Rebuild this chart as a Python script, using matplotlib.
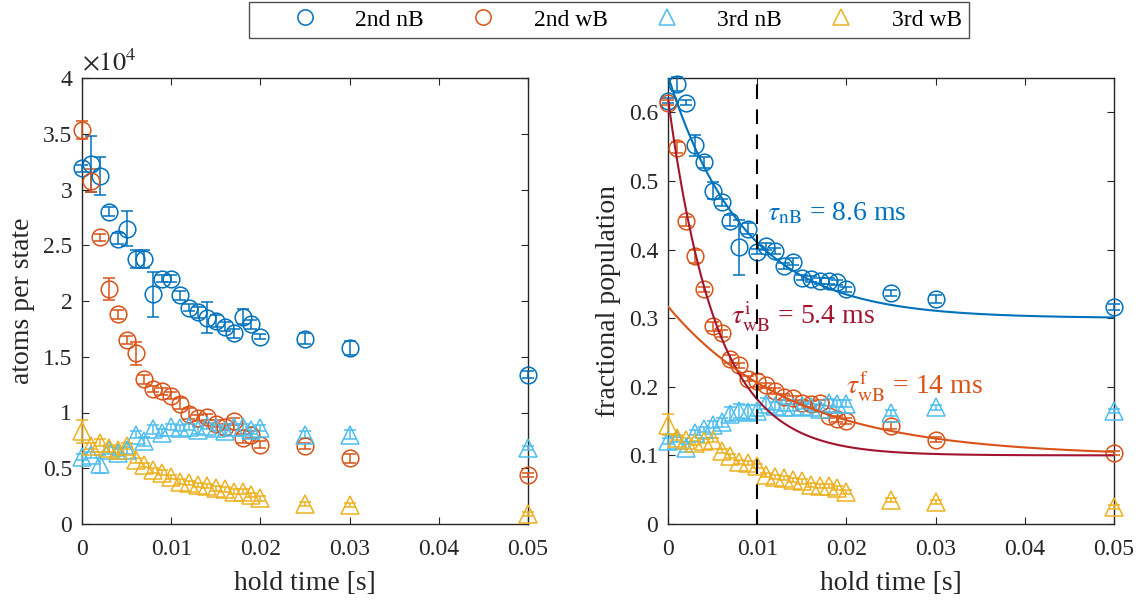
"""Hold-time decay of 2nd/3rd band populations, with and without barrier."""

import matplotlib
matplotlib.use("Agg")
import matplotlib.pyplot as plt
from matplotlib.lines import Line2D
import numpy as np

plt.rcParams["font.family"] = ["Liberation Serif", "DejaVu Serif"]
plt.rcParams["mathtext.fontset"] = "stix"

# hold times [s]
hold_time = [0.000, 0.001, 0.002, 0.003, 0.004, 0.005, 0.006, 0.007, 0.008,
             0.009, 0.010, 0.011, 0.012, 0.013, 0.014, 0.015, 0.016, 0.017,
             0.018, 0.019, 0.020, 0.025, 0.030, 0.050]

# atoms per state, in units of 1e4
atoms_2nd_nb = [3.19, 3.23, 3.12, 2.80, 2.56, 2.65, 2.38, 2.38, 2.06, 2.20, 2.20, 2.05,
                1.94, 1.90, 1.85, 1.82, 1.77, 1.71, 1.86, 1.79, 1.68, 1.66, 1.58, 1.34]
atoms_2nd_nb_err = [0.03, 0.25, 0.17, 0.04, 0.05, 0.16, 0.08, 0.08, 0.20, 0.03, 0.03, 0.04,
                    0.03, 0.05, 0.14, 0.05, 0.04, 0.04, 0.07, 0.04, 0.02, 0.05, 0.06, 0.03]
atoms_2nd_wb = [3.53, 3.08, 2.57, 2.11, 1.88, 1.65, 1.53, 1.30, 1.21, 1.19, 1.15, 1.08,
                0.99, 0.95, 0.96, 0.90, 0.87, 0.92, 0.77, 0.80, 0.71, 0.70, 0.59, 0.44]
atoms_2nd_wb_err = [0.08, 0.10, 0.03, 0.10, 0.04, 0.04, 0.10, 0.04, 0.03, 0.03, 0.03, 0.05,
                    0.05, 0.03, 0.03, 0.03, 0.03, 0.03, 0.04, 0.03, 0.03, 0.03, 0.04, 0.02]
atoms_3rd_nb = [0.60, 0.62, 0.54, 0.66, 0.64, 0.66, 0.80, 0.74, 0.85, 0.82, 0.87, 0.86,
                0.87, 0.84, 0.88, 0.86, 0.83, 0.87, 0.87, 0.84, 0.86, 0.80, 0.80, 0.68]
atoms_3rd_nb_err = [0.03, 0.03, 0.08, 0.03, 0.03, 0.03, 0.03, 0.04, 0.04, 0.03, 0.03, 0.03,
                    0.03, 0.03, 0.03, 0.03, 0.03, 0.03, 0.03, 0.03, 0.03, 0.03, 0.04, 0.02]
atoms_3rd_wb = [0.83, 0.70, 0.73, 0.68, 0.66, 0.70, 0.57, 0.53, 0.48, 0.46, 0.42, 0.38,
                0.37, 0.35, 0.34, 0.32, 0.31, 0.29, 0.29, 0.26, 0.23, 0.18, 0.17, 0.09]
atoms_3rd_wb_err = [0.10, 0.03, 0.03, 0.03, 0.03, 0.03, 0.02, 0.02, 0.02, 0.02, 0.02, 0.02,
                    0.02, 0.02, 0.02, 0.02, 0.02, 0.02, 0.02, 0.02, 0.02, 0.02, 0.02, 0.02]

# fractional population
frac_2nd_nb = [0.617, 0.641, 0.614, 0.552, 0.527, 0.486, 0.469, 0.442, 0.403, 0.430,
               0.397, 0.405, 0.398, 0.376, 0.382, 0.359, 0.357, 0.354, 0.354, 0.352,
               0.342, 0.337, 0.328, 0.316]
frac_2nd_nb_err = [0.004, 0.010, 0.004, 0.015, 0.008, 0.012, 0.005, 0.008, 0.040, 0.008,
                   0.004, 0.005, 0.004, 0.005, 0.005, 0.004, 0.004, 0.004, 0.004, 0.004,
                   0.004, 0.004, 0.006, 0.004]
frac_2nd_wb = [0.614, 0.548, 0.441, 0.390, 0.342, 0.288, 0.278, 0.241, 0.231, 0.212,
               0.209, 0.202, 0.194, 0.185, 0.183, 0.177, 0.175, 0.177, 0.158, 0.153,
               0.150, 0.143, 0.123, 0.103]
frac_2nd_wb_err = [0.004, 0.008, 0.007, 0.010, 0.004, 0.006, 0.005, 0.006, 0.004, 0.004,
                   0.010, 0.004, 0.004, 0.004, 0.004, 0.004, 0.004, 0.004, 0.004, 0.004,
                   0.004, 0.005, 0.004, 0.003]
frac_3rd_nb = [0.121, 0.123, 0.111, 0.133, 0.138, 0.145, 0.148, 0.160, 0.165, 0.163,
               0.165, 0.175, 0.172, 0.170, 0.170, 0.172, 0.170, 0.168, 0.177, 0.175,
               0.175, 0.162, 0.170, 0.165]
frac_3rd_nb_err = [0.004, 0.004, 0.006, 0.004, 0.004, 0.005, 0.006, 0.010, 0.010, 0.010,
                   0.008, 0.008, 0.006, 0.005, 0.005, 0.005, 0.005, 0.005, 0.005, 0.005,
                   0.005, 0.004, 0.004, 0.003]
frac_3rd_wb = [0.145, 0.126, 0.123, 0.118, 0.121, 0.123, 0.106, 0.099, 0.091, 0.089,
               0.084, 0.072, 0.069, 0.067, 0.064, 0.062, 0.057, 0.055, 0.055, 0.052,
               0.047, 0.035, 0.032, 0.025]
frac_3rd_wb_err = [0.015, 0.004, 0.003, 0.003, 0.003, 0.003, 0.003, 0.003, 0.003, 0.003,
                   0.003, 0.003, 0.003, 0.003, 0.003, 0.003, 0.003, 0.003, 0.003, 0.003,
                   0.003, 0.003, 0.003, 0.003]

# exponential fits  A * exp(-t / tau) + C
fit_nb = (0.353, 8.6e-3, 0.300)
fit_wb_i = (0.52, 5.4e-3, 0.100)
fit_wb_f = (0.218, 14e-3, 0.099)

labels = ["2nd nB", "2nd wB", "3rd nB", "3rd wB"]
colors = ["#0072BD", "#D95319", "#4DBEEE", "#EDB120"]
markers = ["o", "o", "^", "^"]
fit_colors = ["#0072BD", "#A2142F", "#D95319"]

SPINE = "#262626"


def style_axes(ax):
    for side in ax.spines.values():
        side.set_color(SPINE)
        side.set_linewidth(1.0)
    ax.tick_params(direction="in", top=True, right=True, length=5, width=0.8,
                   colors=SPINE, labelsize=17, labelcolor="#262626")
    ax.tick_params(axis="x", pad=11)
    ax.tick_params(axis="y", pad=7)
    ax.set_xlim(0, 0.05)
    ax.set_xticks([0, 0.01, 0.02, 0.03, 0.04, 0.05])
    ax.set_xticklabels(["0", "0.01", "0.02", "0.03", "0.04", "0.05"])
    ax.set_xlabel("hold time [s]", fontsize=20, color="#262626", labelpad=8)


def draw_series(ax, ys, errs):
    for y, e, lab, col, mk in zip(ys, errs, labels, colors, markers):
        ax.errorbar(hold_time, y, yerr=e, fmt=mk, mfc="none", mec=col,
                    ms=12 if mk == "o" else 13, mew=1.1, ecolor=col,
                    elinewidth=1.1, capsize=4, capthick=1.1,
                    label=lab, clip_on=False, zorder=3)


fig = plt.figure(figsize=(11.42, 6.06), dpi=100)
ax1 = fig.add_axes([82 / 1142, 82 / 606, 446 / 1142, 446 / 606])
ax2 = fig.add_axes([668 / 1142, 82 / 606, 446 / 1142, 446 / 606])

# left: atom numbers
draw_series(ax1,
            [atoms_2nd_nb, atoms_2nd_wb, atoms_3rd_nb, atoms_3rd_wb],
            [atoms_2nd_nb_err, atoms_2nd_wb_err, atoms_3rd_nb_err, atoms_3rd_wb_err])
style_axes(ax1)
ax1.set_ylim(0, 4)
ax1.set_yticks([0, 0.5, 1, 1.5, 2, 2.5, 3, 3.5, 4])
ax1.set_yticklabels(["0", "0.5", "1", "1.5", "2", "2.5", "3", "3.5", "4"])
ax1.set_ylabel("atoms per state", fontsize=20, color="#262626", labelpad=6)
ax1.text(0.0, 1.006, r"$\times10^4$", transform=ax1.transAxes, fontsize=19,
         color="#262626", ha="left", va="bottom")

# right: fractional population with fits
draw_series(ax2,
            [frac_2nd_nb, frac_2nd_wb, frac_3rd_nb, frac_3rd_wb],
            [frac_2nd_nb_err, frac_2nd_wb_err, frac_3rd_nb_err, frac_3rd_wb_err])
t_fit = np.linspace(0, 0.05, 300)
for (amp, tau, off), col in zip([fit_nb, fit_wb_i, fit_wb_f], fit_colors):
    ax2.plot(t_fit, amp * np.exp(-t_fit / tau) + off, color=col, lw=1.5, zorder=4)
ax2.axvline(0.01, color="black", lw=1.5, ls=(0, (7, 5)), zorder=5)
style_axes(ax2)
ax2.set_ylim(0, 0.65)
ax2.set_yticks([0, 0.1, 0.2, 0.3, 0.4, 0.5, 0.6])
ax2.set_yticklabels(["0", "0.1", "0.2", "0.3", "0.4", "0.5", "0.6"])
ax2.set_ylabel("fractional population", fontsize=20, color="#262626", labelpad=6)

ax2.text(0.0111, 0.452, r"$\tau_{\mathrm{nB}}$ = 8.6 ms", color=fit_colors[0],
         fontsize=20, ha="left", va="center")
ax2.text(0.0071, 0.302, r"$\tau^{\mathrm{i}}_{\mathrm{wB}}$ = 5.4 ms", color=fit_colors[1],
         fontsize=20, ha="left", va="center")
ax2.text(0.0200, 0.200, r"$\tau^{\mathrm{f}}_{\mathrm{wB}}$ = 14 ms", color=fit_colors[2],
         fontsize=20, ha="left", va="center")

# legend shows the bare markers only
proxies = [Line2D([], [], ls="none", marker=mk, mfc="none", mec=col,
                  ms=11 if mk == "o" else 12, mew=1.1)
           for col, mk in zip(colors, markers)]
leg = fig.legend(proxies, labels, loc="upper center", ncol=4,
                 bbox_to_anchor=(609 / 1142, 1 - 2 / 606), fontsize=17,
                 frameon=True, fancybox=False, edgecolor=SPINE, borderpad=0.3,
                 handlelength=4.1, handletextpad=0.1, columnspacing=0.45,
                 borderaxespad=0)
leg.get_frame().set_linewidth(1.0)

fig.savefig("out.png", dpi=100)
